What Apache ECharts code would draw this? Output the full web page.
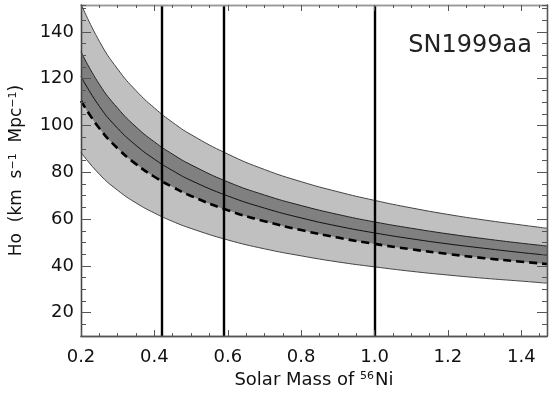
<!DOCTYPE html>
<html>
<head>
<meta charset="utf-8">
<script src="https://cdn.jsdelivr.net/npm/echarts@6/dist/echarts.min.js"></script>
<style>
  html, body { margin: 0; padding: 0; background: #fff; }
  #chart { width: 553px; height: 394px; }
</style>
</head>
<body>
<div id="chart"></div>
<script>
// Solar mass of 56Ni (x samples)
var mass = [0.2, 0.25, 0.3, 0.35, 0.4, 0.45, 0.5, 0.6, 0.7, 0.8, 0.9, 1.0, 1.1, 1.2, 1.3, 1.4, 1.47];
// outer (light) band edges
var outerUpper = [152, 136.0, 124.1, 114.9, 107.5, 101.3, 96.1, 87.8, 81.2, 76.0, 71.7, 68.0, 64.8, 62.0, 59.6, 57.5, 56.1];
var outerLower = [88.5, 79.2, 72.3, 66.9, 62.6, 59.0, 56.0, 51.1, 47.3, 44.3, 41.7, 39.6, 37.7, 36.1, 34.7, 33.5, 32.6];
// inner (dark) band upper edge, thin centre line, dashed line = inner band lower edge
var innerUpper = [131.5, 117.6, 107.4, 99.4, 93.0, 87.7, 83.2, 75.9, 70.3, 65.8, 62.0, 58.8, 56.1, 53.7, 51.6, 49.7, 48.5];
var centre = [121, 108.2, 98.8, 91.5, 85.6, 80.7, 76.5, 69.9, 64.7, 60.5, 57.0, 54.1, 51.6, 49.4, 47.5, 45.7, 44.6];
var dashed = [110.5, 98.8, 90.2, 83.5, 78.1, 73.7, 69.9, 63.8, 59.1, 55.3, 52.1, 49.4, 47.1, 45.1, 43.3, 41.8, 40.8];
// vertical markers
var vlines = [0.42, 0.59, 1.0];
var yTicks = [20, 40, 60, 80, 100, 120, 140];

var X_MIN = 0.2, X_MAX = 1.47, Y_MIN = 10, Y_MAX = 151.5;
var FONT = "DejaVu Sans";

function pairs(ys) {
  return mass.map(function (m, i) { return [m, ys[i]]; });
}

var chart = echarts.init(document.getElementById("chart"));

function xAx(pos, interval, len, labels, lineColor) {
  return {
    type: "value", position: pos, min: X_MIN, max: X_MAX, interval: interval, z: 10,
    axisLine: { show: true, lineStyle: { color: lineColor, width: 1.3 } },
    axisTick: { show: true, inside: true, length: len, lineStyle: { color: "#555", width: 1 } },
    axisLabel: {
      show: labels, showMaxLabel: false, margin: 12, fontSize: 18, fontFamily: FONT, color: "#111",
      formatter: function (v) { return v.toFixed(1); }
    },
    splitLine: { show: false }
  };
}
function yAx(pos, major, lineColor) {
  var ax = {
    type: "value", position: pos, min: Y_MIN, max: Y_MAX, interval: major ? 10 : 5, z: 10,
    axisLine: { show: true, lineStyle: { color: lineColor, width: 1.3 } },
    axisTick: { show: true, inside: true, length: major ? 10 : 5, lineStyle: { color: "#555", width: 1 } },
    axisLabel: { show: false },
    splitLine: { show: false }
  };
  if (major) {
    ax.axisTick.customValues = yTicks;
    ax.axisLabel = { show: pos === "left", customValues: yTicks, margin: 7, fontSize: 18, fontFamily: FONT, color: "#111" };
  }
  return ax;
}

var xAxes = [
  xAx("bottom", 0.2, 6, true, "#555"),
  xAx("bottom", 0.05, 3, false, "#555"),
  xAx("top", 0.2, 6, false, "#999"),
  xAx("top", 0.05, 3, false, "#999")
];
xAxes[0].name = "{n|Solar Mass of }{s|56}{n|Ni}";
xAxes[0].nameLocation = "middle";
xAxes[0].nameGap = 32;
xAxes[0].nameTextStyle = {
  rich: {
    n: { fontSize: 18, fontFamily: FONT, color: "#111" },
    s: { fontSize: 11, fontFamily: FONT, color: "#111", verticalAlign: "top", padding: [0, 1, 0, 0] }
  }
};

var yAxes = [
  yAx("left", true, "#444"),
  yAx("left", false, "#444"),
  yAx("right", true, "#555"),
  yAx("right", false, "#555")
];
yAxes[0].name = "{n|Ho  (km  s}{s|\u22121}{n|  Mpc}{s|\u22121}{n|)}";
yAxes[0].nameLocation = "middle";
yAxes[0].nameRotate = 90;
yAxes[0].nameGap = 56;
yAxes[0].nameTextStyle = {
  rich: {
    n: { fontSize: 17, fontFamily: FONT, color: "#111" },
    s: { fontSize: 11, fontFamily: FONT, color: "#111", verticalAlign: "top" }
  }
};

// filled areas drawn down to the axis minimum, painted in order so each covers the one below
function fill(data, color, z) {
  return {
    type: "line", smooth: true, showSymbol: false, silent: true, data: data, z: z,
    lineStyle: { width: 0 }, areaStyle: { color: color, opacity: 1, origin: "start" }
  };
}
function edge(data, color, width, type) {
  return {
    type: "line", smooth: true, showSymbol: false, silent: true, data: data, z: 3,
    lineStyle: { color: color, width: width, type: type || "solid" }
  };
}

var option = {
  animation: false,
  backgroundColor: "#fff",
  grid: { left: 78, right: 6, top: 5, bottom: 54, containLabel: false },
  title: {
    text: "SN1999aa", right: 16, top: 29,
    textStyle: { fontSize: 24, fontWeight: "normal", fontFamily: FONT, color: "#222" }
  },
  xAxis: xAxes,
  yAxis: yAxes,
  series: [
    fill(pairs(outerUpper), "#c0c0c0", 1),
    fill(pairs(innerUpper), "#808080", 1.1),
    fill(pairs(dashed), "#c0c0c0", 1.2),
    fill(pairs(outerLower), "#ffffff", 1.3),
    edge(pairs(outerUpper), "#444", 1),
    edge(pairs(outerLower), "#444", 1),
    edge(pairs(innerUpper), "#222", 1),
    edge(pairs(centre), "#111", 1),
    edge(pairs(dashed), "#000", 2.6, [8, 5]),
    {
      type: "line", data: [], z: 4, silent: true,
      markLine: {
        silent: true, symbol: "none", animation: false,
        label: { show: false },
        lineStyle: { color: "#000", width: 2.4, type: "solid" },
        data: vlines.map(function (v) { return { xAxis: v }; })
      }
    }
  ]
};

chart.setOption(option);
</script>
</body>
</html>
